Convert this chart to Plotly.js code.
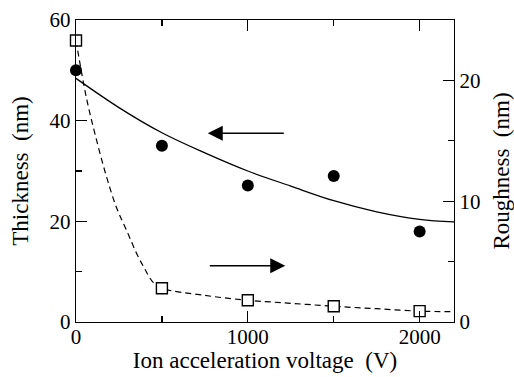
<!DOCTYPE html>
<html>
<head>
<meta charset="utf-8">
<script src="https://cdn.plot.ly/plotly-3.0.1.min.js"></script>
<style>html,body{margin:0;padding:0;background:#fff;}#chart{width:514px;height:377px;}</style>
</head>
<body>
<div id="chart"></div>
<script>
// Measured data
var voltage = [0, 500, 1000, 1500, 2000];
var thickness = [50.0, 35.0, 27.1, 29.0, 18.0];
var roughness = [23.3, 2.8, 1.8, 1.3, 0.9];

// Fit curve for thickness
var fitVoltage = [0, 250, 500, 750, 1000, 1250, 1500, 1750, 2000, 2200];
var fitThickness = [48.4, 42.6, 37.6, 33.6, 30.0, 27.0, 24.1, 21.9, 20.4, 19.9];

// Guide curve for roughness
var guideVoltage = [0, 60, 110, 170, 235, 300, 352, 400, 448, 500, 750, 1000, 1250, 1500, 1750, 2000, 2200];
var guideRoughness = [23.3, 18.6, 15.6, 12.4, 9.5, 7.4, 5.7, 4.4, 3.3, 2.8, 2.2, 1.8, 1.55, 1.3, 1.1, 0.9, 0.85];

// Tick labels
var xTicks = [0, 1000, 2000];
var yTicks = [0, 20, 40, 60];
var y2Ticks = [0, 10, 20];

var FONT = 'Liberation Serif, Times New Roman, serif';

var traces = [
  {x: fitVoltage, y: fitThickness, mode: 'lines', line: {color: '#000', width: 1.3, shape: 'spline'}, yaxis: 'y', hoverinfo: 'skip'},
  {x: guideVoltage, y: guideRoughness, mode: 'lines', line: {color: '#000', width: 1.2, dash: '6px,4px', shape: 'spline'}, yaxis: 'y2', hoverinfo: 'skip'},
  {x: voltage, y: thickness, mode: 'markers', marker: {symbol: 'circle', size: 12, color: '#000'}, yaxis: 'y', cliponaxis: false},
  {x: voltage, y: roughness, mode: 'markers', marker: {symbol: 'square', size: 11, color: '#fff', line: {color: '#000', width: 1.4}}, yaxis: 'y2', cliponaxis: false}
];

var layout = {
  width: 514, height: 377,
  margin: {l: 76, r: 60, t: 20, b: 55},
  paper_bgcolor: '#fff', plot_bgcolor: '#fff',
  showlegend: false,
  font: {family: FONT, color: '#000', size: 21},
  xaxis: {
    range: [0, 2200], tickvals: xTicks, ticktext: xTicks.map(String),
    ticks: 'inside', ticklen: 11, tickwidth: 1.2, tickcolor: '#000',
    minor: {dtick: 500, tick0: 0, ticks: 'inside', ticklen: 6, tickwidth: 1.2, tickcolor: '#000'},
    showline: true, linecolor: '#000', linewidth: 1.3, mirror: 'ticks',
    showgrid: false, zeroline: false, ticklabelstandoff: -5,
    tickfont: {family: FONT, size: 21, color: '#000'},
    title: {text: 'Ion acceleration voltage  (V)', font: {family: FONT, size: 23, color: '#000'}, standoff: 0}
  },
  yaxis: {
    range: [0, 60], tickvals: yTicks, ticktext: yTicks.map(String),
    ticks: 'inside', ticklen: 11, tickwidth: 1.2, tickcolor: '#000',
    minor: {dtick: 10, tick0: 0, ticks: 'inside', ticklen: 6, tickwidth: 1.2, tickcolor: '#000'},
    showline: true, linecolor: '#000', linewidth: 1.3,
    showgrid: false, zeroline: false,
    tickfont: {family: FONT, size: 21, color: '#000'},
    title: {text: 'Thickness  (nm)', font: {family: FONT, size: 23, color: '#000'}, standoff: 14}
  },
  yaxis2: {
    range: [0, 25], overlaying: 'y', side: 'right', tickvals: y2Ticks, ticktext: y2Ticks.map(String),
    ticks: 'inside', ticklen: 11, tickwidth: 1.2, tickcolor: '#000',
    minor: {dtick: 5, tick0: 0, ticks: 'inside', ticklen: 6, tickwidth: 1.2, tickcolor: '#000'},
    showline: true, linecolor: '#000', linewidth: 1.3,
    showgrid: false, zeroline: false,
    tickfont: {family: FONT, size: 21, color: '#000'},
    title: {text: 'Roughness  (nm)', font: {family: FONT, size: 23, color: '#000'}, standoff: 15}
  },
  annotations: [
    {x: 767, y: 37.5, xref: 'x', yref: 'y', ax: 1218, ay: 37.5, axref: 'x', ayref: 'y',
     showarrow: true, arrowhead: 2, arrowsize: 2, arrowwidth: 1.5, arrowcolor: '#000', text: ''},
    {x: 1218, y: 11.2, xref: 'x', yref: 'y', ax: 770, ay: 11.2, axref: 'x', ayref: 'y',
     showarrow: true, arrowhead: 2, arrowsize: 2, arrowwidth: 1.5, arrowcolor: '#000', text: ''}
  ]
};

Plotly.newPlot('chart', traces, layout, {displayModeBar: false, staticPlot: true});
</script>
</body>
</html>
